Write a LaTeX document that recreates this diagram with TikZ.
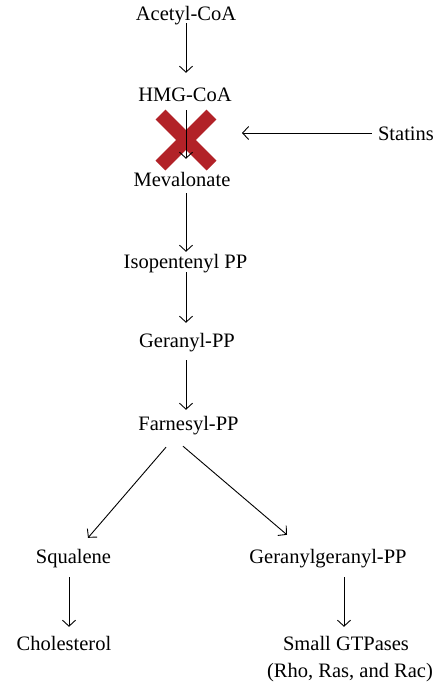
\documentclass[tikz,border=0pt]{standalone}
\usepackage{fontspec}
\setmainfont{Liberation Serif}
\usepackage{tikz}
\usetikzlibrary{arrows.meta}
\definecolor{statinred}{RGB}{178,34,40}
\tikzstyle{every node}=[font=\fontsize{20.5}{24}\selectfont,inner sep=0pt,
  text height=13pt,text depth=4pt,anchor=base]
\tikzstyle{flow}=[-{Straight Barb[length=6pt,width=13pt]},line width=0.9pt]
\tikzstyle{blocked}=[line width=14pt,draw=statinred]

\begin{document}
\begin{tikzpicture}[x=1pt,y=-1pt]
  \useasboundingbox (0,0) rectangle (438,686);
  % main pathway (nodes sit on their baselines)
  \node (acetyl) at (186,20) {Acetyl-CoA};
  \node (hmg) at (185,101) {HMG-CoA};
  \node (mevalonate) at (182,186) {Mevalonate};
  \node (isopentenyl) at (185.5,268) {Isopentenyl PP};
  \node (geranyl) at (187,347) {Geranyl-PP};
  \node (farnesyl) at (188.5,430) {Farnesyl-PP};
  % branches
  \node (squalene) at (73.5,563) {Squalene};
  \node (ggpp) at (328,563) {Geranylgeranyl-PP};
  \node (cholesterol) at (64,650) {Cholesterol};
  \node (gtpases) at (346,650) {Small GTPases};
  \node (rho) at (350,677) {(Rho, Ras, and Rac)};
  % inhibitor
  \node (statins) at (406,140) {Statins};
  \coordinate (spine) at (186,0);
  \coordinate (block) at (186,140);
  \coordinate (blockend) at (242,133);
  \draw[blocked] (block) ++(-25.5,-25.5) -- ++(51,51);
  \draw[blocked] (block) ++(25.5,-25.5) -- ++(-51,51);
  \draw[flow] ([xshift=-6pt]statins.west |- blockend) -- (blockend);
  % arrows
  \draw[flow] ([yshift=1pt]spine |- acetyl.south) -- ([yshift=15pt]spine |- hmg.north);
  \draw[flow] ([yshift=-5pt]spine |- hmg.south) -- ([yshift=14pt]spine |- mevalonate.north);
  \draw[flow] ([yshift=-3pt]spine |- mevalonate.south) -- ([yshift=3pt]spine |- isopentenyl.north);
  \draw[flow] (spine |- isopentenyl.south) -- ([yshift=11pt]spine |- geranyl.north);
  \draw[flow] ([yshift=-9pt]spine |- geranyl.south) -- ([yshift=7pt]spine |- farnesyl.north);
  \draw[flow] ([xshift=-22.5pt,yshift=-13pt]farnesyl.south) -- ([xshift=14.5pt,yshift=12pt]squalene.north);
  \draw[flow] ([xshift=-5.5pt,yshift=-12pt]farnesyl.south) -- ([xshift=-41pt,yshift=15pt]ggpp.north);
  \draw[flow] ([xshift=-4.5pt,yshift=-10pt]squalene.south) -- ([xshift=-4.5pt,yshift=10pt]squalene.south |- cholesterol.north);
  \draw[flow] ([xshift=16pt,yshift=-10pt]ggpp.south) -- ([xshift=16pt,yshift=10pt]ggpp.south |- gtpases.north);
\end{tikzpicture}
\end{document}
